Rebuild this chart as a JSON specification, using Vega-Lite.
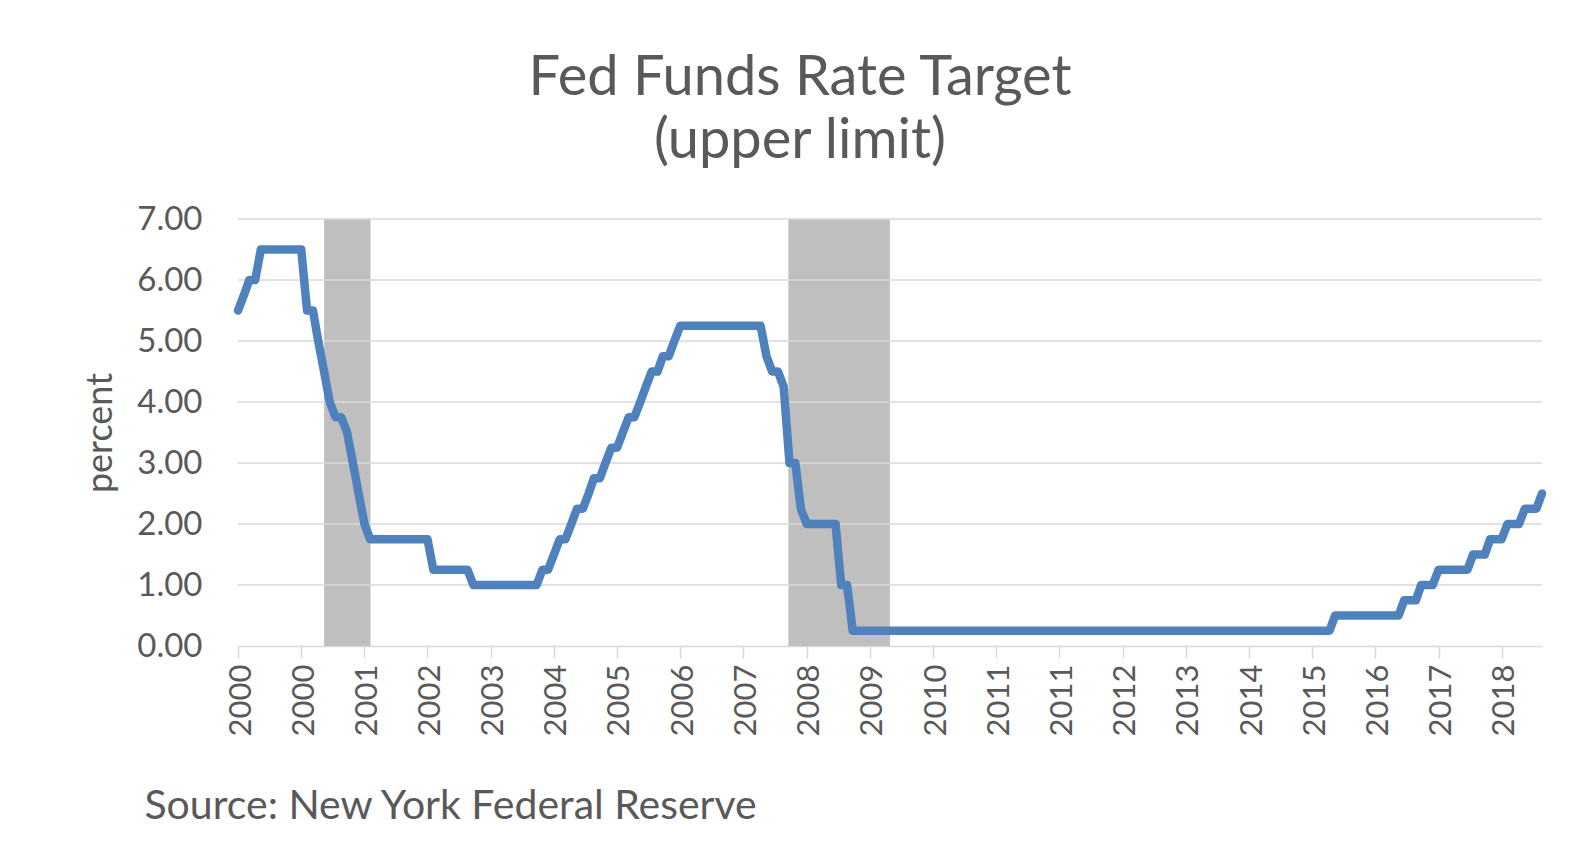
{
  "$schema": "https://vega.github.io/schema/vega-lite/v6.json",
  "width": 1304,
  "height": 427,
  "autosize": "none",
  "padding": {"left": 238, "top": 219, "right": 43, "bottom": 200},
  "background": "white",
  "title": {
    "text": ["Fed Funds Rate Target", "(upper limit)"],
    "font": "Lato",
    "fontSize": 56,
    "fontWeight": "normal",
    "color": "#595959",
    "lineHeight": 63,
    "anchor": "middle",
    "dx": -90,
    "offset": 33
  },
  "config": {
    "view": {"stroke": null},
    "font": "Lato",
    "axisX": {
      "labelAngle": -90,
      "labelFontSize": 31,
      "labelColor": "#595959",
      "labelFont": "Lato",
      "tickSize": 12,
      "tickColor": "#D9D9D9",
      "tickWidth": 1.5,
      "domainColor": "#D9D9D9",
      "domainWidth": 1.5,
      "labelPadding": 6,
      "labelOffset": 3,
      "grid": false,
      "labelFlush": false,
      "labelOverlap": false,
      "titleFont": "Lato",
      "titleFontSize": 41,
      "titleFontWeight": "normal",
      "titleColor": "#595959",
      "titleAnchor": "start",
      "titleAlign": "left",
      "titleBaseline": "alphabetic",
      "titleX": -94,
      "titleY": 172
    },
    "axisY": {
      "grid": false,
      "domain": false,
      "ticks": false,
      "labelPadding": 36,
      "labelFontSize": 33,
      "labelColor": "#595959",
      "labelFont": "Lato",
      "labelFlush": false,
      "titleFont": "Lato",
      "titleFontSize": 36,
      "titleFontWeight": "normal",
      "titleColor": "#595959",
      "titlePadding": 17
    }
  },
  "datasets": {
    "recessions": [
      {"start": "2001-04-01", "end": "2001-12-03"},
      {"start": "2007-12-26", "end": "2009-06-16"}
    ],
    "gridlines": [
      {"v": 1}, {"v": 2}, {"v": 3}, {"v": 4}, {"v": 5}, {"v": 6}, {"v": 7}
    ],
    "fedfunds": [
      {"date": "2000-01-01", "rate": 5.5},
      {"date": "2000-02-01", "rate": 5.75},
      {"date": "2000-03-01", "rate": 6},
      {"date": "2000-04-01", "rate": 6},
      {"date": "2000-05-01", "rate": 6.5},
      {"date": "2000-06-01", "rate": 6.5},
      {"date": "2000-07-01", "rate": 6.5},
      {"date": "2000-08-01", "rate": 6.5},
      {"date": "2000-09-01", "rate": 6.5},
      {"date": "2000-10-01", "rate": 6.5},
      {"date": "2000-11-01", "rate": 6.5},
      {"date": "2000-12-01", "rate": 6.5},
      {"date": "2001-01-01", "rate": 5.5},
      {"date": "2001-02-01", "rate": 5.5},
      {"date": "2001-03-01", "rate": 5},
      {"date": "2001-04-01", "rate": 4.5},
      {"date": "2001-05-01", "rate": 4},
      {"date": "2001-06-01", "rate": 3.75},
      {"date": "2001-07-01", "rate": 3.75},
      {"date": "2001-08-01", "rate": 3.5},
      {"date": "2001-09-01", "rate": 3},
      {"date": "2001-10-01", "rate": 2.5},
      {"date": "2001-11-01", "rate": 2},
      {"date": "2001-12-01", "rate": 1.75},
      {"date": "2002-01-01", "rate": 1.75},
      {"date": "2002-02-01", "rate": 1.75},
      {"date": "2002-03-01", "rate": 1.75},
      {"date": "2002-04-01", "rate": 1.75},
      {"date": "2002-05-01", "rate": 1.75},
      {"date": "2002-06-01", "rate": 1.75},
      {"date": "2002-07-01", "rate": 1.75},
      {"date": "2002-08-01", "rate": 1.75},
      {"date": "2002-09-01", "rate": 1.75},
      {"date": "2002-10-01", "rate": 1.75},
      {"date": "2002-11-01", "rate": 1.25},
      {"date": "2002-12-01", "rate": 1.25},
      {"date": "2003-01-01", "rate": 1.25},
      {"date": "2003-02-01", "rate": 1.25},
      {"date": "2003-03-01", "rate": 1.25},
      {"date": "2003-04-01", "rate": 1.25},
      {"date": "2003-05-01", "rate": 1.25},
      {"date": "2003-06-01", "rate": 1},
      {"date": "2003-07-01", "rate": 1},
      {"date": "2003-08-01", "rate": 1},
      {"date": "2003-09-01", "rate": 1},
      {"date": "2003-10-01", "rate": 1},
      {"date": "2003-11-01", "rate": 1},
      {"date": "2003-12-01", "rate": 1},
      {"date": "2004-01-01", "rate": 1},
      {"date": "2004-02-01", "rate": 1},
      {"date": "2004-03-01", "rate": 1},
      {"date": "2004-04-01", "rate": 1},
      {"date": "2004-05-01", "rate": 1},
      {"date": "2004-06-01", "rate": 1.25},
      {"date": "2004-07-01", "rate": 1.25},
      {"date": "2004-08-01", "rate": 1.5},
      {"date": "2004-09-01", "rate": 1.75},
      {"date": "2004-10-01", "rate": 1.75},
      {"date": "2004-11-01", "rate": 2},
      {"date": "2004-12-01", "rate": 2.25},
      {"date": "2005-01-01", "rate": 2.25},
      {"date": "2005-02-01", "rate": 2.5},
      {"date": "2005-03-01", "rate": 2.75},
      {"date": "2005-04-01", "rate": 2.75},
      {"date": "2005-05-01", "rate": 3},
      {"date": "2005-06-01", "rate": 3.25},
      {"date": "2005-07-01", "rate": 3.25},
      {"date": "2005-08-01", "rate": 3.5},
      {"date": "2005-09-01", "rate": 3.75},
      {"date": "2005-10-01", "rate": 3.75},
      {"date": "2005-11-01", "rate": 4},
      {"date": "2005-12-01", "rate": 4.25},
      {"date": "2006-01-01", "rate": 4.5},
      {"date": "2006-02-01", "rate": 4.5},
      {"date": "2006-03-01", "rate": 4.75},
      {"date": "2006-04-01", "rate": 4.75},
      {"date": "2006-05-01", "rate": 5},
      {"date": "2006-06-01", "rate": 5.25},
      {"date": "2006-07-01", "rate": 5.25},
      {"date": "2006-08-01", "rate": 5.25},
      {"date": "2006-09-01", "rate": 5.25},
      {"date": "2006-10-01", "rate": 5.25},
      {"date": "2006-11-01", "rate": 5.25},
      {"date": "2006-12-01", "rate": 5.25},
      {"date": "2007-01-01", "rate": 5.25},
      {"date": "2007-02-01", "rate": 5.25},
      {"date": "2007-03-01", "rate": 5.25},
      {"date": "2007-04-01", "rate": 5.25},
      {"date": "2007-05-01", "rate": 5.25},
      {"date": "2007-06-01", "rate": 5.25},
      {"date": "2007-07-01", "rate": 5.25},
      {"date": "2007-08-01", "rate": 5.25},
      {"date": "2007-09-01", "rate": 4.75},
      {"date": "2007-10-01", "rate": 4.5},
      {"date": "2007-11-01", "rate": 4.5},
      {"date": "2007-12-01", "rate": 4.25},
      {"date": "2008-01-01", "rate": 3},
      {"date": "2008-02-01", "rate": 3},
      {"date": "2008-03-01", "rate": 2.25},
      {"date": "2008-04-01", "rate": 2},
      {"date": "2008-05-01", "rate": 2},
      {"date": "2008-06-01", "rate": 2},
      {"date": "2008-07-01", "rate": 2},
      {"date": "2008-08-01", "rate": 2},
      {"date": "2008-09-01", "rate": 2},
      {"date": "2008-10-01", "rate": 1},
      {"date": "2008-11-01", "rate": 1},
      {"date": "2008-12-01", "rate": 0.25},
      {"date": "2009-01-01", "rate": 0.25},
      {"date": "2009-02-01", "rate": 0.25},
      {"date": "2009-03-01", "rate": 0.25},
      {"date": "2009-04-01", "rate": 0.25},
      {"date": "2009-05-01", "rate": 0.25},
      {"date": "2009-06-01", "rate": 0.25},
      {"date": "2009-07-01", "rate": 0.25},
      {"date": "2009-08-01", "rate": 0.25},
      {"date": "2009-09-01", "rate": 0.25},
      {"date": "2009-10-01", "rate": 0.25},
      {"date": "2009-11-01", "rate": 0.25},
      {"date": "2009-12-01", "rate": 0.25},
      {"date": "2010-01-01", "rate": 0.25},
      {"date": "2010-02-01", "rate": 0.25},
      {"date": "2010-03-01", "rate": 0.25},
      {"date": "2010-04-01", "rate": 0.25},
      {"date": "2010-05-01", "rate": 0.25},
      {"date": "2010-06-01", "rate": 0.25},
      {"date": "2010-07-01", "rate": 0.25},
      {"date": "2010-08-01", "rate": 0.25},
      {"date": "2010-09-01", "rate": 0.25},
      {"date": "2010-10-01", "rate": 0.25},
      {"date": "2010-11-01", "rate": 0.25},
      {"date": "2010-12-01", "rate": 0.25},
      {"date": "2011-01-01", "rate": 0.25},
      {"date": "2011-02-01", "rate": 0.25},
      {"date": "2011-03-01", "rate": 0.25},
      {"date": "2011-04-01", "rate": 0.25},
      {"date": "2011-05-01", "rate": 0.25},
      {"date": "2011-06-01", "rate": 0.25},
      {"date": "2011-07-01", "rate": 0.25},
      {"date": "2011-08-01", "rate": 0.25},
      {"date": "2011-09-01", "rate": 0.25},
      {"date": "2011-10-01", "rate": 0.25},
      {"date": "2011-11-01", "rate": 0.25},
      {"date": "2011-12-01", "rate": 0.25},
      {"date": "2012-01-01", "rate": 0.25},
      {"date": "2012-02-01", "rate": 0.25},
      {"date": "2012-03-01", "rate": 0.25},
      {"date": "2012-04-01", "rate": 0.25},
      {"date": "2012-05-01", "rate": 0.25},
      {"date": "2012-06-01", "rate": 0.25},
      {"date": "2012-07-01", "rate": 0.25},
      {"date": "2012-08-01", "rate": 0.25},
      {"date": "2012-09-01", "rate": 0.25},
      {"date": "2012-10-01", "rate": 0.25},
      {"date": "2012-11-01", "rate": 0.25},
      {"date": "2012-12-01", "rate": 0.25},
      {"date": "2013-01-01", "rate": 0.25},
      {"date": "2013-02-01", "rate": 0.25},
      {"date": "2013-03-01", "rate": 0.25},
      {"date": "2013-04-01", "rate": 0.25},
      {"date": "2013-05-01", "rate": 0.25},
      {"date": "2013-06-01", "rate": 0.25},
      {"date": "2013-07-01", "rate": 0.25},
      {"date": "2013-08-01", "rate": 0.25},
      {"date": "2013-09-01", "rate": 0.25},
      {"date": "2013-10-01", "rate": 0.25},
      {"date": "2013-11-01", "rate": 0.25},
      {"date": "2013-12-01", "rate": 0.25},
      {"date": "2014-01-01", "rate": 0.25},
      {"date": "2014-02-01", "rate": 0.25},
      {"date": "2014-03-01", "rate": 0.25},
      {"date": "2014-04-01", "rate": 0.25},
      {"date": "2014-05-01", "rate": 0.25},
      {"date": "2014-06-01", "rate": 0.25},
      {"date": "2014-07-01", "rate": 0.25},
      {"date": "2014-08-01", "rate": 0.25},
      {"date": "2014-09-01", "rate": 0.25},
      {"date": "2014-10-01", "rate": 0.25},
      {"date": "2014-11-01", "rate": 0.25},
      {"date": "2014-12-01", "rate": 0.25},
      {"date": "2015-01-01", "rate": 0.25},
      {"date": "2015-02-01", "rate": 0.25},
      {"date": "2015-03-01", "rate": 0.25},
      {"date": "2015-04-01", "rate": 0.25},
      {"date": "2015-05-01", "rate": 0.25},
      {"date": "2015-06-01", "rate": 0.25},
      {"date": "2015-07-01", "rate": 0.25},
      {"date": "2015-08-01", "rate": 0.25},
      {"date": "2015-09-01", "rate": 0.25},
      {"date": "2015-10-01", "rate": 0.25},
      {"date": "2015-11-01", "rate": 0.25},
      {"date": "2015-12-01", "rate": 0.5},
      {"date": "2016-01-01", "rate": 0.5},
      {"date": "2016-02-01", "rate": 0.5},
      {"date": "2016-03-01", "rate": 0.5},
      {"date": "2016-04-01", "rate": 0.5},
      {"date": "2016-05-01", "rate": 0.5},
      {"date": "2016-06-01", "rate": 0.5},
      {"date": "2016-07-01", "rate": 0.5},
      {"date": "2016-08-01", "rate": 0.5},
      {"date": "2016-09-01", "rate": 0.5},
      {"date": "2016-10-01", "rate": 0.5},
      {"date": "2016-11-01", "rate": 0.5},
      {"date": "2016-12-01", "rate": 0.75},
      {"date": "2017-01-01", "rate": 0.75},
      {"date": "2017-02-01", "rate": 0.75},
      {"date": "2017-03-01", "rate": 1},
      {"date": "2017-04-01", "rate": 1},
      {"date": "2017-05-01", "rate": 1},
      {"date": "2017-06-01", "rate": 1.25},
      {"date": "2017-07-01", "rate": 1.25},
      {"date": "2017-08-01", "rate": 1.25},
      {"date": "2017-09-01", "rate": 1.25},
      {"date": "2017-10-01", "rate": 1.25},
      {"date": "2017-11-01", "rate": 1.25},
      {"date": "2017-12-01", "rate": 1.5},
      {"date": "2018-01-01", "rate": 1.5},
      {"date": "2018-02-01", "rate": 1.5},
      {"date": "2018-03-01", "rate": 1.75},
      {"date": "2018-04-01", "rate": 1.75},
      {"date": "2018-05-01", "rate": 1.75},
      {"date": "2018-06-01", "rate": 2},
      {"date": "2018-07-01", "rate": 2},
      {"date": "2018-08-01", "rate": 2},
      {"date": "2018-09-01", "rate": 2.25},
      {"date": "2018-10-01", "rate": 2.25},
      {"date": "2018-11-01", "rate": 2.25},
      {"date": "2018-12-01", "rate": 2.5}
    ]
  },
  "layer": [
    {
      "data": {"name": "recessions"},
      "mark": {"type": "rect", "color": "#BFBFBF"},
      "encoding": {
        "x": {
          "field": "start",
          "type": "temporal",
          "scale": {"type": "utc", "domain": [{"year": 2000, "month": 1, "date": 1, "utc": true}, {"year": 2018, "month": 12, "date": 1, "utc": true}], "nice": false},
          "axis": {
            "title": "Source: New York Federal Reserve",
            "format": "%Y",
            "values": [
              {"year": 2000, "month": 1, "date": 1, "utc": true},
              {"year": 2000, "month": 12, "date": 1, "utc": true},
              {"year": 2001, "month": 11, "date": 1, "utc": true},
              {"year": 2002, "month": 10, "date": 1, "utc": true},
              {"year": 2003, "month": 9, "date": 1, "utc": true},
              {"year": 2004, "month": 8, "date": 1, "utc": true},
              {"year": 2005, "month": 7, "date": 1, "utc": true},
              {"year": 2006, "month": 6, "date": 1, "utc": true},
              {"year": 2007, "month": 5, "date": 1, "utc": true},
              {"year": 2008, "month": 4, "date": 1, "utc": true},
              {"year": 2009, "month": 3, "date": 1, "utc": true},
              {"year": 2010, "month": 2, "date": 1, "utc": true},
              {"year": 2011, "month": 1, "date": 1, "utc": true},
              {"year": 2011, "month": 12, "date": 1, "utc": true},
              {"year": 2012, "month": 11, "date": 1, "utc": true},
              {"year": 2013, "month": 10, "date": 1, "utc": true},
              {"year": 2014, "month": 9, "date": 1, "utc": true},
              {"year": 2015, "month": 8, "date": 1, "utc": true},
              {"year": 2016, "month": 7, "date": 1, "utc": true},
              {"year": 2017, "month": 6, "date": 1, "utc": true},
              {"year": 2018, "month": 5, "date": 1, "utc": true}
            ]
          }
        },
        "x2": {"field": "end"},
        "y": {
          "datum": 0,
          "type": "quantitative",
          "scale": {"domain": [0, 7], "nice": false},
          "axis": {"title": "percent", "values": [0, 1, 2, 3, 4, 5, 6, 7], "format": ".2f"}
        },
        "y2": {"datum": 7}
      }
    },
    {
      "data": {"name": "gridlines"},
      "mark": {"type": "rule", "color": "#D9D9D9", "strokeWidth": 1.5},
      "encoding": {
        "y": {
          "field": "v",
          "type": "quantitative",
          "scale": {"domain": [0, 7], "nice": false},
          "axis": {"title": "percent", "values": [0, 1, 2, 3, 4, 5, 6, 7], "format": ".2f"}
        }
      }
    },
    {
      "data": {"name": "fedfunds"},
      "mark": {"type": "line", "color": "#4F81BD", "strokeWidth": 8.5, "strokeCap": "round", "strokeJoin": "round"},
      "encoding": {
        "x": {
          "field": "date",
          "type": "temporal",
          "scale": {"type": "utc", "domain": [{"year": 2000, "month": 1, "date": 1, "utc": true}, {"year": 2018, "month": 12, "date": 1, "utc": true}], "nice": false},
          "axis": {
            "title": "Source: New York Federal Reserve",
            "format": "%Y",
            "values": [
              {"year": 2000, "month": 1, "date": 1, "utc": true},
              {"year": 2000, "month": 12, "date": 1, "utc": true},
              {"year": 2001, "month": 11, "date": 1, "utc": true},
              {"year": 2002, "month": 10, "date": 1, "utc": true},
              {"year": 2003, "month": 9, "date": 1, "utc": true},
              {"year": 2004, "month": 8, "date": 1, "utc": true},
              {"year": 2005, "month": 7, "date": 1, "utc": true},
              {"year": 2006, "month": 6, "date": 1, "utc": true},
              {"year": 2007, "month": 5, "date": 1, "utc": true},
              {"year": 2008, "month": 4, "date": 1, "utc": true},
              {"year": 2009, "month": 3, "date": 1, "utc": true},
              {"year": 2010, "month": 2, "date": 1, "utc": true},
              {"year": 2011, "month": 1, "date": 1, "utc": true},
              {"year": 2011, "month": 12, "date": 1, "utc": true},
              {"year": 2012, "month": 11, "date": 1, "utc": true},
              {"year": 2013, "month": 10, "date": 1, "utc": true},
              {"year": 2014, "month": 9, "date": 1, "utc": true},
              {"year": 2015, "month": 8, "date": 1, "utc": true},
              {"year": 2016, "month": 7, "date": 1, "utc": true},
              {"year": 2017, "month": 6, "date": 1, "utc": true},
              {"year": 2018, "month": 5, "date": 1, "utc": true}
            ]
          }
        },
        "y": {
          "field": "rate",
          "type": "quantitative",
          "scale": {"domain": [0, 7], "nice": false},
          "axis": {"title": "percent", "values": [0, 1, 2, 3, 4, 5, 6, 7], "format": ".2f"}
        }
      }
    }
  ]
}
